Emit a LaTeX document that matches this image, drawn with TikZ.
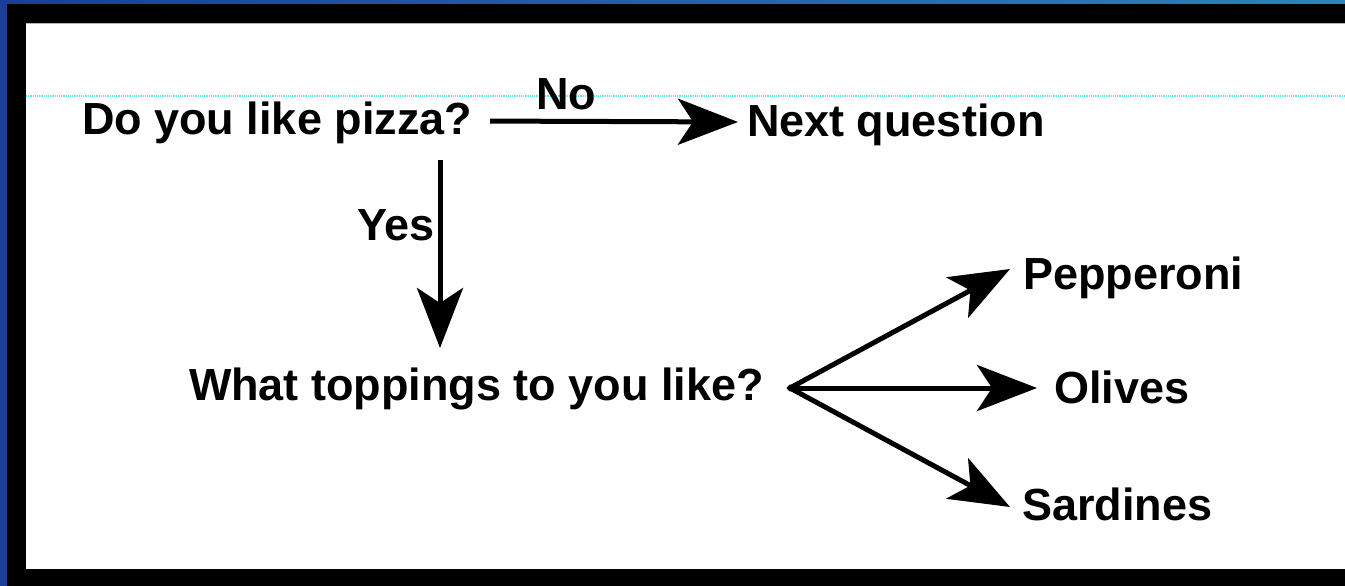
\documentclass[tikz,border=0pt]{standalone}
\usepackage{fontspec}
\setmainfont{Liberation Sans}
\usetikzlibrary{arrows.meta,calc}
\definecolor{frameblueL}{RGB}{26,62,155}
\definecolor{frameblueR}{RGB}{42,132,190}
\definecolor{guidecyan}{RGB}{100,225,245}
\tikzset{
  lbl/.style={inner sep=0pt, outer sep=0pt, text height=28pt, text depth=0pt,
    font=\fontsize{45}{50}\selectfont\bfseries, anchor=base west},
  arr/.style={line width=5pt, -{Stealth[length=60pt, width=46pt, inset=15pt]}},
}
\begin{document}
\begin{tikzpicture}[x=1pt, y=-1pt]
\useasboundingbox (0,0) rectangle (1345,586);
% frame
\shade[left color=frameblueL, right color=frameblueR] (0,0) rectangle (1345,586);
\fill[black] (7,4) rectangle (1345,586);
\fill[white] (26,23) rectangle (1345,569);
\draw[gray!60, line width=1pt] (26,23.5) -- (1345,23.5);
\draw[guidecyan, line width=1.2pt, densely dotted] (26,96) -- (1345,96);
% nodes
\node[lbl] (q1) at (82,135) {Do you like pizza?};
\node[lbl] (next) at (747,136) {Next question};
\node[lbl] (q2) at (189,400) {What toppings to you like?};
\node[lbl] (pep) at (1023,289) {Pepperoni};
\node[lbl] (oli) at (1054,403) {Olives};
\node[lbl] (sar) at (1022,520) {Sardines};
\node[lbl] (no) at (536,110) {No};
\node[lbl] (yes) at (357,240) {Yes};
% connectors
\coordinate (yx) at (440,0);
\draw[arr, shorten <=18pt, shorten >=9pt] (q1.east) -- (next.west);
\draw[arr, shorten <=25pt, shorten >=24pt] (q1.south -| yx) -- (q2.north -| yx);
\coordinate (fan) at ($(q2.east)+(26,2)$);
\draw[line width=5pt, fill=black] (fan) circle (0.1pt);
\draw[arr, line cap=round] (fan) -- ($(pep.west)+(-13,-6)$);
\draw[arr, line cap=round, shorten >=17pt] (fan) -- (oli.west |- fan);
\draw[arr, line cap=round] (fan) -- ($(sar.west)+(-12,1)$);
\end{tikzpicture}
\end{document}
